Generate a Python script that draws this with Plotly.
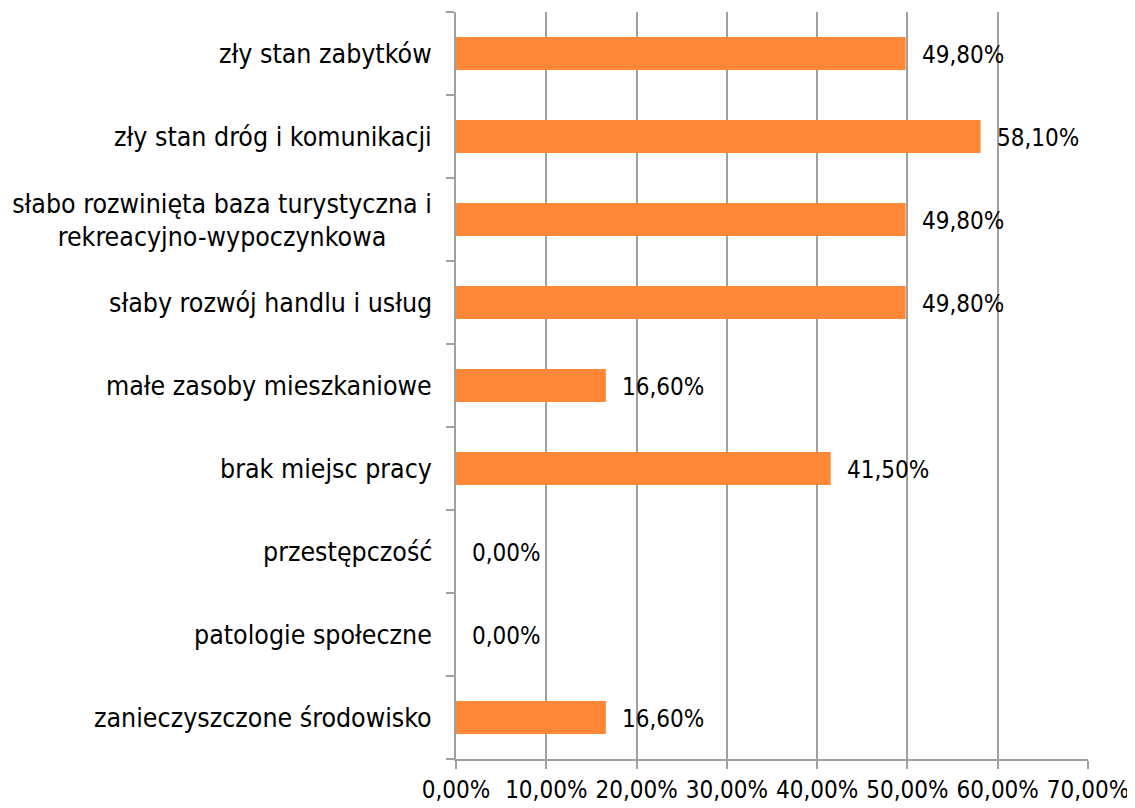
import plotly.graph_objects as go

categories = [
    "zły stan zabytków",
    "zły stan dróg i komunikacji",
    "słabo rozwinięta baza turystyczna i<br>rekreacyjno-wypoczynkowa",
    "słaby rozwój handlu i usług",
    "małe zasoby mieszkaniowe",
    "brak miejsc pracy",
    "przestępczość",
    "patologie społeczne",
    "zanieczyszczone środowisko",
]
values = [49.8, 58.1, 49.8, 49.8, 16.6, 41.5, 0.0, 0.0, 16.6]
x_ticks = [0, 10, 20, 30, 40, 50, 60, 70]

labels = [f"{v:.2f}%".replace(".", ",") for v in values]
tick_text = [f"{t:.2f}%".replace(".", ",") for t in x_ticks]

FONT = "DejaVu Sans Condensed"
CAT_SIZE = 26.5
NUM_SIZE = 24
BAR = "#FF8838"
GRID = "#A0A0A0"

fig = go.Figure()
fig.add_trace(go.Bar(
    x=values, y=categories, orientation="h",
    marker=dict(color=BAR, line=dict(width=0)),
    width=0.4,
    hoverinfo="skip",
))

annotations = []
# value labels, placed just outside the bar end
for c, v, lab in zip(categories, values, labels):
    annotations.append(dict(
        x=v, xref="x", y=c, yref="y",
        xanchor="left", yanchor="middle", xshift=14, yshift=-1,
        text=lab, showarrow=False,
        font=dict(family=FONT, size=NUM_SIZE, color="#000000"),
    ))

# category labels
for c in categories:
    lines = c.split("<br>")
    if len(lines) == 1:
        annotations.append(dict(
            x=0, xref="paper", y=c, yref="y",
            xanchor="right", yanchor="middle", xshift=-22,
            text=c, showarrow=False,
            font=dict(family=FONT, size=CAT_SIZE, color="#000000"),
        ))
    else:
        n = len(lines)
        step = 33
        for i, ln in enumerate(lines):
            annotations.append(dict(
                x=0, xref="paper", y=c, yref="y",
                xanchor="right", yanchor="middle", xshift=-7,
                yshift=(n - 1) / 2 * step - i * step,
                width=450, align="center",
                text=ln, showarrow=False,
                font=dict(family=FONT, size=CAT_SIZE, color="#000000"),
            ))

fig.update_layout(
    width=1127, height=800,
    margin=dict(l=448, r=47, t=4, b=49),
    paper_bgcolor="white", plot_bgcolor="white",
    showlegend=False,
    annotations=annotations,
    xaxis=dict(
        range=[0, 70], tickvals=x_ticks, ticktext=tick_text,
        showgrid=True, gridcolor=GRID, gridwidth=2,
        showline=True, linecolor=GRID, linewidth=2,
        ticks="outside", ticklen=8, tickcolor=GRID, tickwidth=2,
        tickfont=dict(family=FONT, size=NUM_SIZE, color="#000000"),
        zeroline=False, fixedrange=True,
    ),
    yaxis=dict(
        type="category", categoryorder="array", categoryarray=categories[::-1],
        autorange=False, range=[-0.5, len(categories) - 0.5],
        showticklabels=False,
        showline=True, linecolor=GRID, linewidth=2,
        ticks="outside", ticklen=8, tickcolor=GRID, tickwidth=2,
        tickson="boundaries", showgrid=False, zeroline=False,
    ),
)

fig.write_html("out.html")
